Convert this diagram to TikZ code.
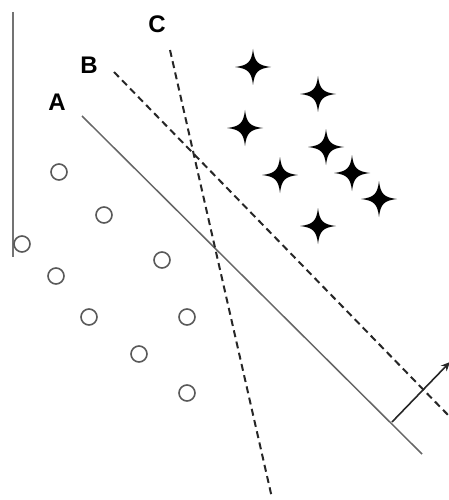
\documentclass[tikz,border=0pt]{standalone}
\usepackage{fontspec}
\setmainfont{Liberation Sans}
\usetikzlibrary{arrows.meta}
\tikzset{
  circ/.style={circle,draw=black!65,line width=1.6pt,minimum size=16pt,inner sep=0pt},
  lbl/.style={font=\bfseries\fontsize{24}{24}\selectfont,inner sep=0pt},
  solidsep/.style={draw=black!60,line width=1.5pt},
  dashsep/.style={draw=black!85,line width=2pt,dash pattern=on 7pt off 4.5pt},
  axisline/.style={draw=black!55,line width=1.8pt},
  normalarrow/.style={draw=black!85,line width=1.6pt,-{Stealth[length=9pt,width=8pt]}},
  starpic/.pic={\fill[black] (18,0) .. controls (5,1.5) and (1.5,5) .. (0,18)
      .. controls (-1.5,5) and (-5,1.5) .. (-18,0)
      .. controls (-5,-1.5) and (-1.5,-5) .. (0,-18)
      .. controls (1.5,-5) and (5,-1.5) .. (18,0) -- cycle;}
}
\begin{document}
\begin{tikzpicture}[x=1pt,y=-1pt]
\useasboundingbox (0,0) rectangle (448,500);
% axis
\coordinate (ax1) at (13,12);
\coordinate (ax2) at (13,257);
\draw[axisline] (ax1) -- (ax2);
% labels
\node[lbl] (lA) at (57,102) {A};
\node[lbl] (lB) at (89,65) {B};
\node[lbl] (lC) at (157,24) {C};
% separating lines
\coordinate (a1) at (82,116);
\coordinate (a2) at (422,454);
\draw[solidsep] (a1) -- (a2);
\coordinate (b1) at (114,72);
\coordinate (b2) at (450,417);
\draw[dashsep] (b1) -- (b2);
\coordinate (c1) at (170,50);
\coordinate (c2) at (272,498);
\draw[dashsep] (c1) -- (c2);
% normal arrow
\coordinate (n1) at (392,422);
\coordinate (n2) at (450,362);
\draw[normalarrow] (n1) -- (n2);
% circles
\node[circ] (o1) at (59,172) {};
\node[circ] (o2) at (104,215) {};
\node[circ] (o3) at (22,244) {};
\node[circ] (o4) at (162,260) {};
\node[circ] (o5) at (56,276) {};
\node[circ] (o6) at (89,317) {};
\node[circ] (o7) at (187,317) {};
\node[circ] (o8) at (139,354) {};
\node[circ] (o9) at (187,393) {};
% stars
\pic at (253,67) {starpic};
\pic at (318,94) {starpic};
\pic at (245,128) {starpic};
\pic at (326,147) {starpic};
\pic at (280,175) {starpic};
\pic at (352,173) {starpic};
\pic at (379,199) {starpic};
\pic at (318,226) {starpic};
\end{tikzpicture}
\end{document}
